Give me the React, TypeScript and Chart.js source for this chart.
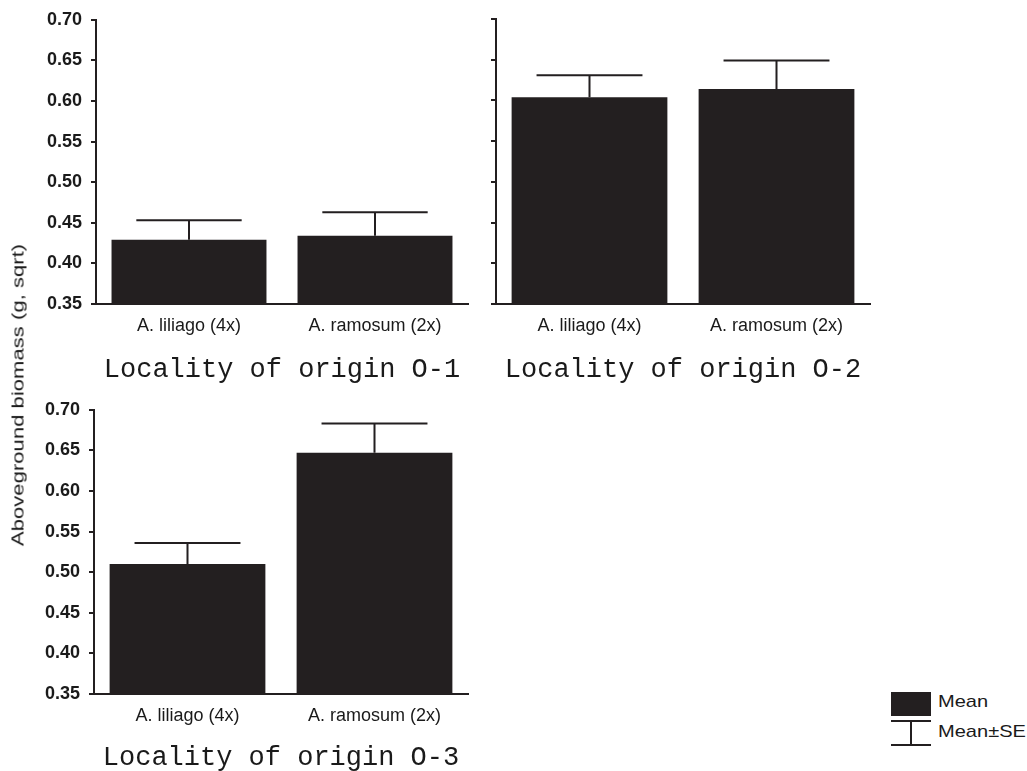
import React, { useEffect, useRef } from 'react';
import { Chart, registerables } from 'chart.js';

Chart.register(...registerables);

// ---- data ----
const categories = ['A. liliago (4x)', 'A. ramosum (2x)'];
const panelTitles = ['Locality of origin O-1', 'Locality of origin O-2', 'Locality of origin O-3'];
const meansO1 = [0.429, 0.434];
const seO1 = [0.024, 0.029];
const meansO2 = [0.604, 0.614];
const seO2 = [0.027, 0.035];
const meansO3 = [0.51, 0.647];
const seO3 = [0.026, 0.036];
const yMin = 0.35;
const yMax = 0.7;
const yStep = 0.05;
const yAxisTitle = 'Aboveground biomass (g, sqrt)';
const legendLabels = ['Mean', 'Mean±SE'];

const INK = '#231f20';
const SANS = '"Liberation Sans", Arial, sans-serif';
const MONO = '"Courier New", "Liberation Mono", monospace';

const errorBarPlugin = {
  id: 'errorBars',
  afterDatasetsDraw(chart: any, _args: any, opts: any) {
    const meta = chart.getDatasetMeta(0);
    const yScale = chart.scales.y;
    const values = chart.data.datasets[0].data as number[];
    const se: number[] = opts.se || [];
    const ctx = chart.ctx;
    ctx.save();
    ctx.strokeStyle = INK;
    ctx.lineWidth = 2;
    meta.data.forEach((bar: any, i: number) => {
      const p = bar.getProps(['x', 'y', 'width'], true);
      const top = yScale.getPixelForValue(values[i] + se[i]);
      const half = p.width * 0.34;
      ctx.beginPath();
      ctx.moveTo(p.x, p.y);
      ctx.lineTo(p.x, top);
      ctx.moveTo(p.x - half, top);
      ctx.lineTo(p.x + half, top);
      ctx.stroke();
    });
    ctx.restore();
  },
};

type PanelProps = {
  left: number;
  top: number;
  width: number;
  height: number;
  yAxisWidth: number;
  padRight: number;
  padTop: number;
  xAxisHeight: number;
  titlePadBottom: number;
  means: number[];
  se: number[];
  title: string;
  showYLabels: boolean;
};

function Panel(props: PanelProps) {
  const ref = useRef<HTMLCanvasElement | null>(null);
  useEffect(() => {
    if (!ref.current) return;
    const chart = new Chart(ref.current, {
      type: 'bar',
      data: {
        labels: categories,
        datasets: [
          {
            data: props.means,
            backgroundColor: INK,
            borderWidth: 0,
            categoryPercentage: 1,
            barPercentage: 0.833,
          },
        ],
      },
      options: {
        responsive: false,
        animation: false,
        events: [],
        layout: { padding: { left: 0, right: props.padRight, top: props.padTop, bottom: 0 } },
        plugins: {
          legend: { display: false },
          tooltip: { enabled: false },
          errorBars: { se: props.se },
        } as any,
        scales: {
          x: {
            grid: { display: false, drawTicks: false },
            border: { display: true, color: INK, width: 2 },
            ticks: { color: '#1a1a1a', font: { family: SANS, size: 18 }, padding: 11 },
            title: {
              display: true,
              text: props.title,
              color: '#1a1a1a',
              font: { family: MONO, size: 27, lineHeight: 1 },
              padding: { top: 0, bottom: props.titlePadBottom },
            },
            afterFit: (s: any) => {
              s.height = props.xAxisHeight;
            },
          },
          y: {
            min: yMin,
            max: yMax,
            ticks: {
              stepSize: yStep,
              display: props.showYLabels,
              color: '#1a1a1a',
              font: { family: SANS, size: 18, weight: 'bold' },
              padding: 9,
              callback: (v: any) => Number(v).toFixed(2),
            },
            grid: { drawOnChartArea: false, drawTicks: true, tickLength: 5, color: INK, lineWidth: 2 },
            border: { display: true, color: INK, width: 2 },
            afterFit: (s: any) => {
              s.width = props.yAxisWidth;
            },
          },
        },
      },
      plugins: [errorBarPlugin],
    });
    return () => chart.destroy();
  }, []);
  return (
    <div style={{ position: 'absolute', left: props.left, top: props.top, width: props.width, height: props.height }}>
      <canvas ref={ref} width={props.width} height={props.height} />
    </div>
  );
}

export default function App() {
  return (
    <div
      style={{
        position: 'absolute',
        left: 0,
        top: 0,
        width: 1027,
        height: 771,
        background: '#fff',
        overflow: 'hidden',
        fontFamily: SANS,
        color: '#1a1a1a',
      }}
    >
      <Panel left={0} top={0} width={480} height={390} yAxisWidth={96} padRight={12} padTop={19}
        xAxisHeight={86} titlePadBottom={7} means={meansO1} se={seO1} title={panelTitles[0]} showYLabels={true} />
      <Panel left={400} top={0} width={482} height={390} yAxisWidth={96} padRight={12} padTop={19}
        xAxisHeight={86} titlePadBottom={7} means={meansO2} se={seO2} title={panelTitles[1]} showYLabels={false} />
      <Panel left={0} top={390} width={480} height={381} yAxisWidth={94} padRight={12} padTop={19}
        xAxisHeight={77} titlePadBottom={0} means={meansO3} se={seO3} title={panelTitles[2]} showYLabels={true} />

      <div
        style={{
          position: 'absolute',
          left: 18,
          top: 395,
          whiteSpace: 'nowrap',
          fontSize: 17,
          lineHeight: '17px',
          transform: 'translate(-50%, -50%) rotate(-90deg) scaleX(1.3)',
        }}
      >
        {yAxisTitle}
      </div>

      <div style={{ position: 'absolute', left: 891, top: 692, width: 40, height: 24, background: INK }} />
      <div style={{ position: 'absolute', left: 891, top: 720, width: 40, height: 2, background: INK }} />
      <div style={{ position: 'absolute', left: 910, top: 720, width: 2, height: 26, background: INK }} />
      <div style={{ position: 'absolute', left: 891, top: 744, width: 40, height: 2, background: INK }} />
      <div style={{ position: 'absolute', left: 938, top: 692, fontSize: 17, lineHeight: '20px', whiteSpace: 'nowrap', transform: 'scaleX(1.18)', transformOrigin: '0 0' }}>
        {legendLabels[0]}
      </div>
      <div style={{ position: 'absolute', left: 938, top: 722, fontSize: 17, lineHeight: '20px', whiteSpace: 'nowrap', transform: 'scaleX(1.18)', transformOrigin: '0 0' }}>
        {legendLabels[1]}
      </div>
    </div>
  );
}
